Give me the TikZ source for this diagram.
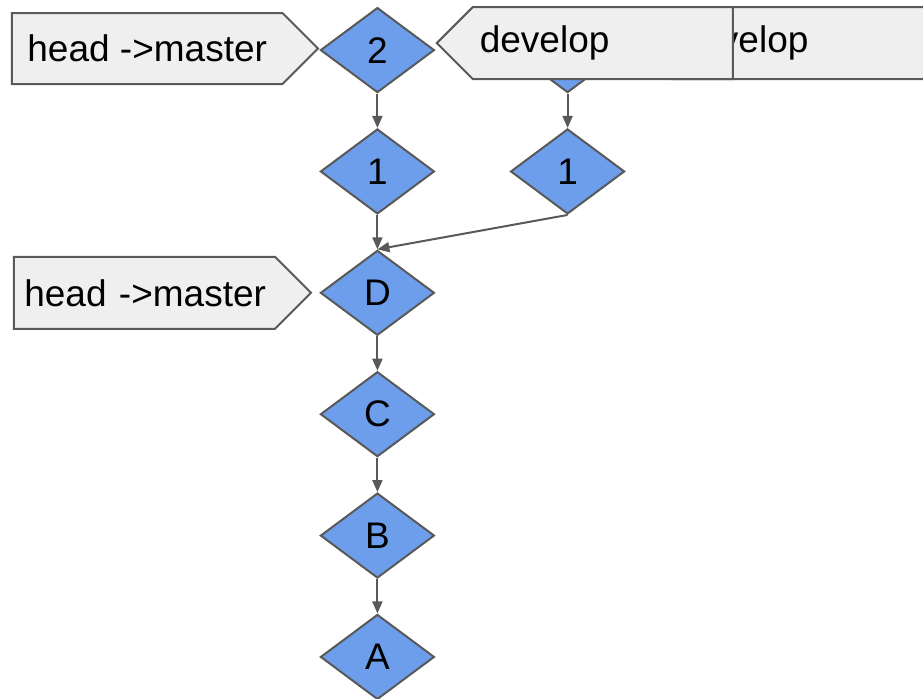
\documentclass[tikz,border=0pt]{standalone}
\usepackage{fontspec}
\setmainfont{Liberation Sans}
\usetikzlibrary{arrows.meta,shapes,shapes.symbols,matrix,positioning}
\definecolor{commitblue}{HTML}{6D9EEB}
\definecolor{edgegray}{HTML}{595959}
\definecolor{tagfill}{HTML}{EFEFEF}
\tikzset{
  commit/.style={diamond, draw=edgegray, fill=commitblue, line width=1pt, minimum width=57pt, minimum height=42.5pt, inner sep=0pt},
  tag/.style={signal, draw=edgegray, fill=tagfill, line width=1pt, minimum height=36pt, inner ysep=0pt},
  link/.style={->, draw=edgegray, line width=1pt},
}

\begin{document}
\begin{tikzpicture}[x=0.5pt,y=-0.5pt,>={Triangle[length=6pt,width=5pt]},font=\fontsize{18.5}{22}\selectfont]
\useasboundingbox (0,0) rectangle (923,698);
\matrix(m)[matrix of nodes,nodes={commit,anchor=center},column sep=37.5pt,row sep=17.6pt] at (472.5,353.5){
    2 & \phantom{2} \\
    1 & 1 \\
    D & \\
    C & \\
    B & \\
    A & \\
};
\path[every edge/.style={link}]
(m-1-1.south)edge(m-2-1.north)
(m-2-1.south)edge(m-3-1.north)
(m-3-1.south)edge(m-4-1.north)
(m-4-1.south)edge(m-5-1.north)
(m-5-1.south)edge(m-6-1.north)
(m-1-2.south)edge(m-2-2.north)
(m-2-2.south)edge(m-3-1.north)
;

% branch labels
\node[tag,signal to=east,inner xsep=7.75pt,minimum height=35.5pt,left=0pt of m-1-1,yshift=0.75pt] (master) {head ->master};
\node[tag,signal to=east,inner xsep=4.5pt,text width=121.5pt,align=right,left=3.5pt of m-3-1] (oldmaster) {head ->master};
\node[tag,signal to=west,inner xsep=3.5pt,text width=123pt,align=left,right=99.5pt of m-1-1,yshift=3.5pt] (olddevelop) {develop};
\node[tag,signal to=west,inner xsep=3.5pt,text width=123pt,align=left,right=0pt of m-1-1,yshift=3.5pt] (develop) {develop};

\end{tikzpicture}
\end{document}
